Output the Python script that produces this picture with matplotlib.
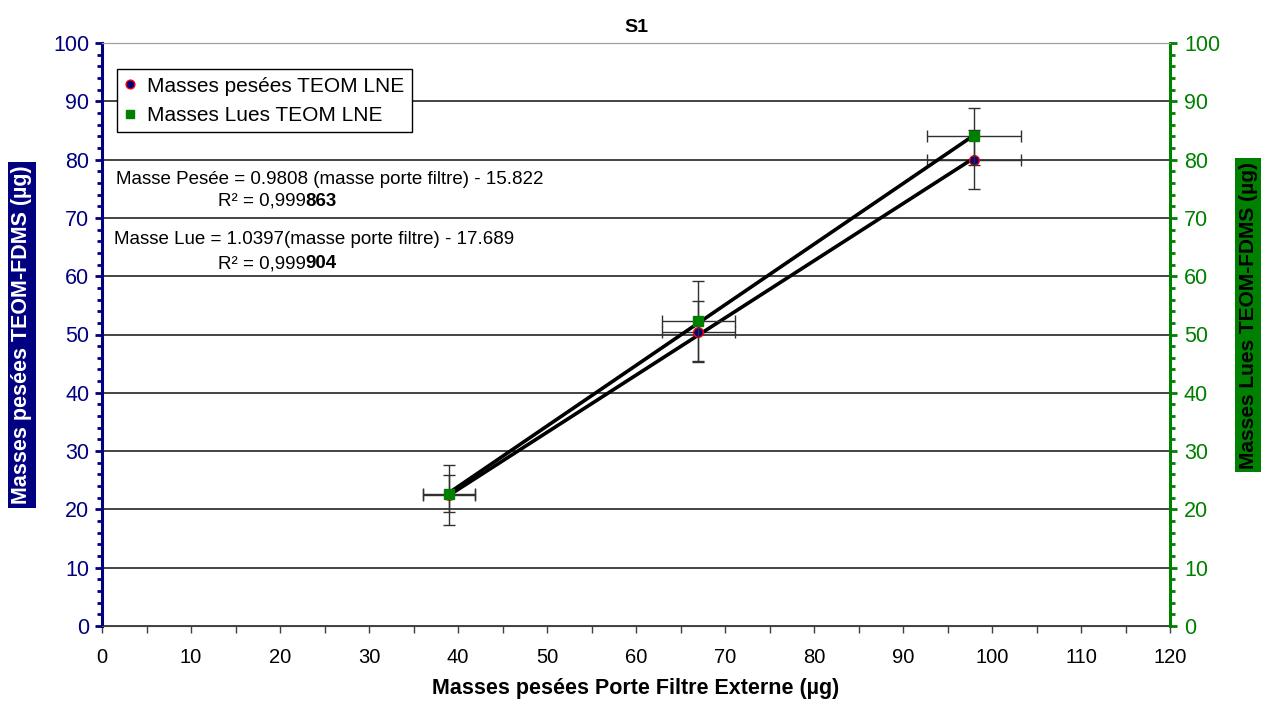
import numpy as np
import matplotlib
matplotlib.use("Agg")
import matplotlib.pyplot as plt
from matplotlib.ticker import MultipleLocator

plt.rcParams['font.family'] = ['Liberation Sans', 'DejaVu Sans']

# ---- data ----
x_ext = [39, 67, 98]
pesee = [22.5, 50.5, 80.0]
lue = [22.7, 52.3, 84.0]
x_err = [2.9, 4.1, 5.3]
pesee_err = [5.2, 5.3, 5.0]
lue_err = [3.2, 6.9, 4.9]
fit_pesee = (0.9808, -15.822)
fit_lue = (1.0397, -17.689)

title = "S1"
xlabel = "Masses pesées Porte Filtre Externe (µg)"
ylabel_left = "Masses pesées TEOM-FDMS (µg)"
ylabel_right = "Masses Lues TEOM-FDMS (µg)"
leg_pesee = "Masses pesées TEOM LNE"
leg_lue = "Masses Lues TEOM LNE"

NAVY = "#000080"
GREEN = "#008000"

fig = plt.figure(figsize=(12.66, 7.04), dpi=100)
ax = fig.add_axes([102/1266, 1-626/704, (1170-102)/1266, (626-43)/704])
ax2 = ax.twinx()

for a in (ax, ax2):
    a.set_xlim(0, 120)
    a.set_ylim(0, 100)

# grid
ax.yaxis.set_major_locator(MultipleLocator(10))
ax.yaxis.set_minor_locator(MultipleLocator(2))
ax2.yaxis.set_major_locator(MultipleLocator(10))
ax2.yaxis.set_minor_locator(MultipleLocator(2))
ax.xaxis.set_major_locator(MultipleLocator(10))
ax.xaxis.set_minor_locator(MultipleLocator(5))
ax.grid(axis='y', which='major', color='#111111', lw=1.1)
ax.set_axisbelow(True)

# fit lines
xs = np.array([min(x_ext), max(x_ext)])
ax.plot(xs, fit_pesee[0]*xs + fit_pesee[1], color='black', lw=2.6, zorder=3)
ax2.plot(xs, fit_lue[0]*xs + fit_lue[1], color='black', lw=2.6, zorder=3)

# error bars + markers
ax.errorbar(x_ext, pesee, xerr=x_err, yerr=pesee_err, fmt='none',
            ecolor='#303030', elinewidth=1.0, capsize=4.5, capthick=1.0, zorder=2)
ax2.errorbar(x_ext, lue, xerr=x_err, yerr=lue_err, fmt='none',
             ecolor='#303030', elinewidth=1.0, capsize=4.5, capthick=1.0, zorder=2)
h1, = ax.plot(x_ext, pesee, linestyle='none', marker='o', ms=7,
              mfc=NAVY, mec='red', mew=1.0, zorder=4, label=leg_pesee)
h2, = ax2.plot(x_ext, lue, linestyle='none', marker='s', ms=7,
               mfc=GREEN, mec=GREEN, zorder=4, label=leg_lue)

# spines & ticks
ax.spines['left'].set_color(NAVY)
ax.spines['left'].set_linewidth(2.2)
ax2.spines['right'].set_color(GREEN)
ax2.spines['right'].set_linewidth(2.2)
ax.spines['bottom'].set_color('#404040')
ax.spines['top'].set_color('#a0a0a0')
ax.spines['right'].set_visible(False)
ax2.spines['left'].set_visible(False)
ax2.spines['top'].set_color('#a0a0a0')
ax2.spines['bottom'].set_visible(False)

ax.tick_params(axis='y', which='major', colors=NAVY, length=5, width=2, labelsize=15.5, pad=4)
ax.tick_params(axis='y', which='minor', colors=NAVY, length=3.5, width=2)
ax2.tick_params(axis='y', which='major', colors=GREEN, length=5, width=2, labelsize=15.5, pad=5)
ax2.tick_params(axis='y', which='minor', colors=GREEN, length=3.5, width=2)
ax.tick_params(axis='x', which='major', colors='#404040', labelcolor='black', length=5, width=1, labelsize=14.5, pad=11)
ax.tick_params(axis='x', which='minor', colors='#404040', length=5, width=1)

ax.set_title(title, fontsize=14, fontweight='bold', pad=8)
ax.set_xlabel(xlabel, fontsize=15.5, fontweight='bold', labelpad=8)

fig.text(22/1266, 1-335/704, ylabel_left, rotation=90, ha='center', va='center',
         fontsize=15.5, fontweight='bold', color='white',
         bbox=dict(facecolor=NAVY, edgecolor='none', pad=2.5))
fig.text(1248/1266, 1-315/704, ylabel_right, rotation=90, ha='center', va='center',
         fontsize=15, fontweight='bold', color='black',
         bbox=dict(facecolor=GREEN, edgecolor='none', pad=2.5))

# legend
leg = ax2.legend(handles=[h1, h2], loc='upper left', bbox_to_anchor=(0.014, 0.955),
                 borderaxespad=0, fancybox=False, edgecolor='black', framealpha=1,
                 fontsize=15, handlelength=0.6, handletextpad=0.5, markerscale=0.9,
                 borderpad=0.35, labelspacing=0.5)
leg.get_frame().set_linewidth(1.0)

# equations
eq_fs = 13.5
ax2.text(116/1266, 1-180/704, "Masse Pesée = 0.9808 (masse porte filtre) - 15.822",
         transform=fig.transFigure, fontsize=eq_fs, va='center', ha='left')
t2 = ax2.text(218/1266, 1-201/704, "R² = 0,999", transform=fig.transFigure,
              fontsize=eq_fs, va='center', ha='left')
ax2.annotate("863", xy=(1, 0), xycoords=t2, va='bottom', ha='left',
             fontsize=eq_fs, fontweight='bold')
ax2.text(114/1266, 1-240/704, "Masse Lue = 1.0397(masse porte filtre) - 17.689",
         transform=fig.transFigure, fontsize=eq_fs, va='center', ha='left')
t4 = ax2.text(218/1266, 1-264/704, "R² = 0,999", transform=fig.transFigure,
              fontsize=eq_fs, va='center', ha='left')
ax2.annotate("904", xy=(1, 0), xycoords=t4, va='bottom', ha='left',
             fontsize=eq_fs, fontweight='bold')

fig.savefig("out.png", dpi=100)
